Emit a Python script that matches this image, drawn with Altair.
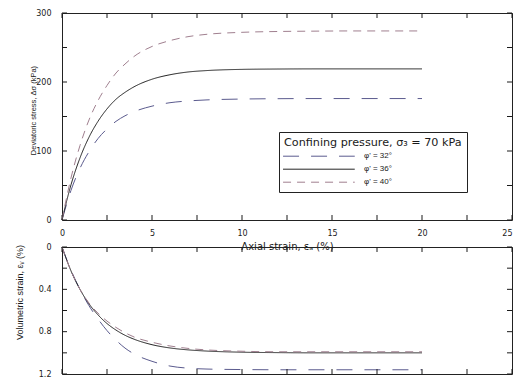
import altair as alt
import pandas as pd

# Axial strain (%) sample points
strain = [0, 0.5, 1, 1.5, 2, 2.5, 3, 3.5, 4, 5, 6, 7, 8, 10, 12, 14, 16, 18, 20]

# Deviatoric stress (kPa)
dev_32 = [0, 43, 75, 99, 118, 132, 143, 151, 157, 165, 170, 172.5, 174, 175.3, 175.8, 176, 176, 176, 176]
dev_36 = [0, 51, 90, 120, 143, 161, 175, 185, 193, 204, 210.5, 214.5, 216.5, 218.3, 218.8, 219, 219, 219, 219]
dev_40 = [0, 61, 108, 145, 173, 195, 213, 226, 237, 251.5, 260, 265.7, 269, 272, 273.2, 273.7, 274, 274, 274]

# Volumetric strain (%)
vol_32 = [0, 0.22, 0.40, 0.555, 0.68, 0.79, 0.88, 0.955, 1.01, 1.08, 1.125, 1.145, 1.153, 1.158, 1.16, 1.16, 1.16, 1.16, 1.16]
vol_36 = [0, 0.226, 0.401, 0.537, 0.641, 0.723, 0.785, 0.834, 0.871, 0.923, 0.954, 0.972, 0.983, 0.994, 0.998, 1.0, 1.0, 1.0, 1.0]
vol_40 = [0, 0.225, 0.40, 0.53, 0.625, 0.70, 0.76, 0.81, 0.85, 0.90, 0.935, 0.958, 0.972, 0.985, 0.99, 0.99, 0.99, 0.99, 0.99]

series_names = ["φ' = 32°", "φ' = 36°", "φ' = 40°"]
series_colors = ["#5b5b8e", "#1e1e1e", "#a07f8f"]
series_dashes = [[16, 12], [1, 0], [8, 6]]

x_labels = [0, 5, 10, 15, 20, 25]
x_ticks = [0, 2.5, 5, 7.5, 10, 12.5, 15, 17.5, 20, 22.5, 25]
dev_labels = [0, 100, 200, 300]
dev_ticks = [0, 50, 100, 150, 200, 250, 300]
vol_labels = [0, 0.4, 0.8, 1.2]
vol_ticks = [0, 0.2, 0.4, 0.6, 0.8, 1.0, 1.2]

rows = []
for name, d, v in zip(series_names, [dev_32, dev_36, dev_40], [vol_32, vol_36, vol_40]):
    for s, a, b in zip(strain, d, v):
        rows.append({"strain": s, "dev": a, "vol": b, "series": name})
df = pd.DataFrame(rows)
x_tick_df = pd.DataFrame({"t": x_ticks})

W, H1, H2 = 450, 207, 127
TXT = "#1a1a1a"
TICK = 5


def panel(field, ydomain, yreverse, H, ylabels, yticks, ylabel_expr, ytitle, ytitle_size,
          title_x, title_y, legend, show_x_labels):
    xs = alt.Scale(domain=[0, 25], nice=False, zero=False)
    ys = alt.Scale(domain=ydomain, nice=False, reverse=yreverse)
    if show_x_labels:
        xaxis = alt.Axis(
            orient="bottom", values=x_labels, ticks=False, domain=False, grid=False,
            labelAlign={"condition": {"test": "datum.value == 25", "value": "right"},
                        "value": "center"},
            labelPadding=9, labelFont="DejaVu Sans", labelFontSize=8, labelColor=TXT,
            title="Axial strain, εₐ (%)", titleFont="DejaVu Sans", titleFontSize=10,
            titleFontWeight="normal", titleColor=TXT, titlePadding=4)
    else:
        xaxis = alt.Axis(orient="bottom", values=x_labels, labels=False, ticks=False,
                         domain=False, grid=False, title=None)
    ykw = dict(orient="left", values=ylabels, ticks=False, domain=False, grid=False,
               labelPadding=11, labelFont="DejaVu Sans", labelFontSize=8, labelColor=TXT,
               title=ytitle, titleFont="Liberation Sans", titleFontSize=ytitle_size,
               titleFontWeight="normal", titleColor=TXT, titleX=title_x, titleY=title_y)
    if ylabel_expr:
        ykw["labelExpr"] = ylabel_expr
    data_layer = alt.Chart(df).mark_line(strokeWidth=1, interpolate="monotone").encode(
        x=alt.X("strain:Q", scale=xs, axis=xaxis),
        y=alt.Y(field + ":Q", scale=ys, axis=alt.Axis(**ykw)),
        color=alt.Color("series:N", scale=alt.Scale(domain=series_names, range=series_colors),
                        legend=legend),
        strokeDash=alt.StrokeDash("series:N",
                                  scale=alt.Scale(domain=series_names, range=series_dashes),
                                  legend=legend),
    )
    # inward tick marks on all four edges (shifted by half their length into the frame)
    y_tick_df = pd.DataFrame({"t": yticks})
    layers = [data_layer]
    for edge, inward in zip(ydomain, [1, -1] if yreverse else [-1, 1]):
        layers.append(alt.Chart(x_tick_df).mark_tick(
            orient="vertical", size=TICK, thickness=1, color=TXT, opacity=1,
            yOffset=inward * TICK / 2).encode(
            x=alt.X("t:Q", scale=xs),
            y=alt.YDatum(edge, type="quantitative", scale=ys)))
    for edge, inward in zip([0, 25], [1, -1]):
        layers.append(alt.Chart(y_tick_df).mark_tick(
            orient="horizontal", size=TICK, thickness=1, color=TXT, opacity=1,
            xOffset=inward * TICK / 2).encode(
            y=alt.Y("t:Q", scale=ys),
            x=alt.XDatum(edge, type="quantitative", scale=xs)))
    return alt.layer(*layers).properties(width=W, height=H)


legend = alt.Legend(
    orient="none", legendX=217, legendY=119,
    title="Confining pressure, σ₃ = 70 kPa", titleFont="DejaVu Sans", titleFontSize=11.2,
    titleFontWeight="normal", titleColor=TXT, titleLimit=400, titlePadding=3,
    labelFont="Liberation Sans", labelFontSize=8, labelColor=TXT, labelOffset=70,
    symbolType="M-1.4,0H15.5", symbolSize=72, symbolStrokeWidth=1, symbolOffset=0,
    rowPadding=4, padding=5, strokeColor="#222", fillColor="white", cornerRadius=0,
)

top = panel("dev", [0, 300], False, H1, dev_labels, dev_ticks, None,
            "Deviatoric stress, Δσ (kPa)", 7.5, -25, 97, legend, True)
bottom = panel("vol", [0, 1.2], True, H2, vol_labels, vol_ticks,
               "datum.value == 0 ? '0' : format(datum.value, '.1f')",
               "Volumetric strain, εᵥ (%)", 9, -38, 45, None, False)

chart = alt.vconcat(top, bottom, spacing=27, bounds="flush").resolve_scale(
    color="independent", strokeDash="independent"
).properties(
    padding={"left": 6, "top": 0, "right": 0, "bottom": 0},
    background="white",
).configure_view(stroke="#222", strokeWidth=1)

chart.save("out.html", embed_options={"renderer": "svg", "actions": False})
